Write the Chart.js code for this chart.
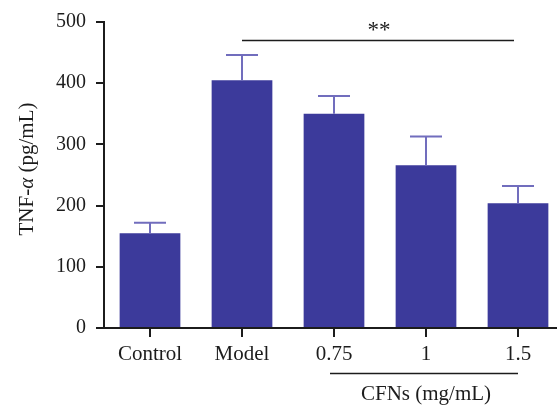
<!DOCTYPE html>
<html>
<head>
<meta charset="utf-8">
<script src="https://cdn.jsdelivr.net/npm/chart.js@4/dist/chart.umd.min.js"></script>
<style>
  html, body { margin: 0; padding: 0; background: #fff; overflow: hidden; }
  #wrap { width: 570px; height: 408px; }
</style>
</head>
<body>
<div id="wrap"><canvas id="chart" width="570" height="408"></canvas></div>
<script>
const GROUPS = ["Control", "Model", "0.75", "1", "1.5"];
const TNF_MEAN = [155, 405, 350, 266, 204];
const TNF_SD = [17, 41, 29, 47, 28];
const Y_TICKS = [0, 100, 200, 300, 400, 500];

const BAR_COLOR = "#3c3a9b";
const ERR_COLOR = "#716dbd";
const INK = "#1c1c1c";
const FONT = "'Liberation Serif', 'Times New Roman', serif";

// SD whiskers on top of each bar
const errorBars = {
  id: "errorBars",
  afterDatasetsDraw(chart) {
    const { ctx, scales: { x, y } } = chart;
    ctx.save();
    ctx.strokeStyle = ERR_COLOR;
    ctx.lineWidth = 2;
    TNF_MEAN.forEach((m, i) => {
      const cx = x.getPixelForValue(i);
      const top = y.getPixelForValue(m + TNF_SD[i]);
      const base = y.getPixelForValue(m);
      ctx.beginPath();
      ctx.moveTo(cx, base);
      ctx.lineTo(cx, top);
      ctx.moveTo(cx - 16, top);
      ctx.lineTo(cx + 16, top);
      ctx.stroke();
    });
    ctx.restore();
  }
};

// significance line, dose bracket and the y-axis title
const annotations = {
  id: "annotations",
  afterDraw(chart) {
    const { ctx, scales: { x, y } } = chart;
    ctx.save();
    ctx.strokeStyle = INK;
    ctx.fillStyle = INK;
    ctx.lineWidth = 1.5;

    const sigY = Math.round(y.getPixelForValue(470)) + 0.5;
    ctx.beginPath();
    ctx.moveTo(x.getPixelForValue(1), sigY);
    ctx.lineTo(x.getPixelForValue(4) - 4, sigY);
    ctx.stroke();
    ctx.font = "23px " + FONT;
    ctx.textAlign = "center";
    ctx.textBaseline = "middle";
    ctx.fillText("**", (x.getPixelForValue(1) + x.getPixelForValue(4)) / 2 - 1, y.getPixelForValue(485));

    const brY = 373.5;
    ctx.beginPath();
    ctx.moveTo(x.getPixelForValue(2) - 4, brY);
    ctx.lineTo(x.getPixelForValue(4), brY);
    ctx.stroke();
    ctx.font = "21px " + FONT;
    ctx.textBaseline = "alphabetic";
    ctx.fillText("CFNs (mg/mL)", x.getPixelForValue(3), 400);

    // TNF-α (pg/mL), with the alpha in italic
    const parts = [["TNF-", "normal"], ["α", "italic"], [" (pg/mL)", "normal"]];
    ctx.translate(33, 169);
    ctx.rotate(-Math.PI / 2);
    let total = 0;
    parts.forEach(([t, s]) => { ctx.font = s + " 21px " + FONT; total += ctx.measureText(t).width; });
    let pos = -total / 2;
    ctx.textAlign = "left";
    parts.forEach(([t, s]) => {
      ctx.font = s + " 21px " + FONT;
      ctx.fillText(t, pos, 0);
      pos += ctx.measureText(t).width;
    });
    ctx.restore();
  }
};

new Chart(document.getElementById("chart"), {
  type: "bar",
  data: {
    labels: GROUPS,
    datasets: [{
      data: TNF_MEAN,
      backgroundColor: BAR_COLOR,
      borderWidth: 0,
      categoryPercentage: 1,
      barPercentage: 0.66
    }]
  },
  options: {
    responsive: false,
    animation: false,
    layout: { padding: { top: 22, right: 6, left: 0, bottom: 0 } },
    plugins: { legend: { display: false }, tooltip: { enabled: false } },
    scales: {
      x: {
        afterFit(s) { s.height = 80; },
        grid: { offset: false, drawOnChartArea: false, drawTicks: true, tickLength: 9, color: INK, lineWidth: 2 },
        border: { color: INK, width: 2 },
        ticks: { color: INK, font: { family: FONT, size: 21 }, padding: 5 }
      },
      y: {
        min: 0,
        max: 500,
        afterFit(s) { s.width = 104; },
        afterBuildTicks(s) { s.ticks = Y_TICKS.map(v => ({ value: v })); },
        grid: { drawOnChartArea: false, drawTicks: true, tickLength: 8, color: INK, lineWidth: 2 },
        border: { color: INK, width: 2 },
        ticks: { color: INK, font: { family: FONT, size: 20 }, padding: 10 }
      }
    }
  },
  plugins: [errorBars, annotations]
});
</script>
</body>
</html>
